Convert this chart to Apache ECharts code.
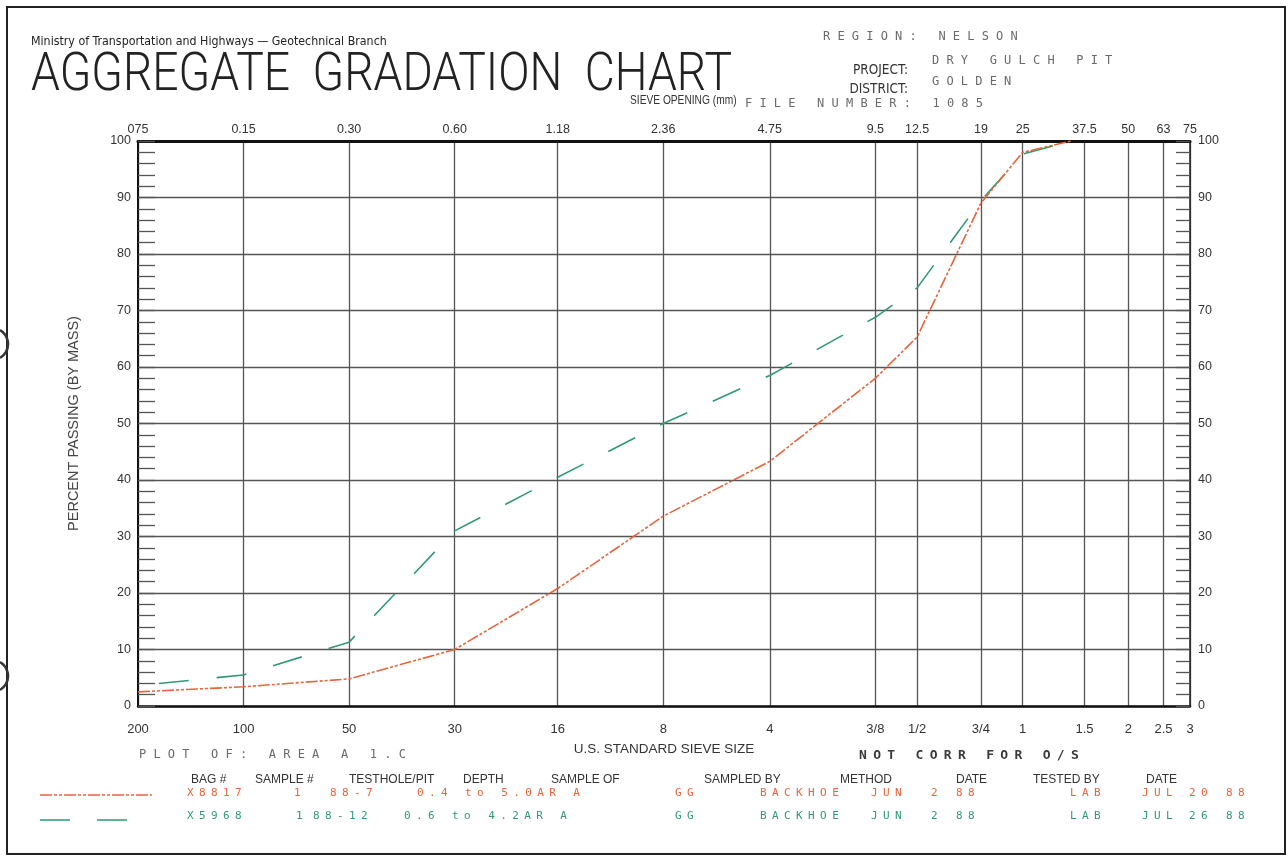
<!DOCTYPE html>
<html>
<head>
<meta charset="utf-8">
<script src="https://cdn.jsdelivr.net/npm/echarts@6/dist/echarts.min.js"></script>
<style>
html,body{margin:0;padding:0;background:#fff;}
#chart{width:1288px;height:857px;}
</style>
</head>
<body>
<div id="chart"></div>
<script>
// ---------- data ----------
const sieveMM = [0.075, 0.15, 0.30, 0.60, 1.18, 2.36, 4.75, 9.5, 12.5, 19, 25, 37.5, 50, 63, 75];
const sieveMMLabels = ['075', '0.15', '0.30', '0.60', '1.18', '2.36', '4.75', '9.5', '12.5', '19', '25', '37.5', '50', '63', '75'];
const sieveUSLabels = ['200', '100', '50', '30', '16', '8', '4', '3/8', '1/2', '3/4', '1', '1.5', '2', '2.5', '3'];
const sampleSizes = [0.075, 0.15, 0.30, 0.60, 1.18, 2.36, 4.75, 9.5, 12.5, 19, 25, 34.4];
const passingX8817 = [2.5, 3.4, 4.8, 10.0, 20.8, 33.6, 43.3, 58.0, 65.3, 89.0, 98.0, 100];
const passingX5968 = [3.6, 5.5, 11.3, 31.0, 40.5, 50.0, 58.5, 68.8, 74.0, 89.4, 97.7, 100];
const legendHeader = ['BAG #', 'SAMPLE #', 'TESTHOLE/PIT', 'DEPTH', 'SAMPLE OF', 'SAMPLED BY', 'METHOD', 'DATE', 'TESTED BY', 'DATE'];
const row1 = ['X8817', '1', '88-7', '0.4 to 5.0AR A', 'GG', 'BACKHOE', 'JUN', '2', '88', 'LAB', 'JUL', '20', '88'];
const row2 = ['X5968', '1', '88-12', '0.6 to 4.2AR A', 'GG', 'BACKHOE', 'JUN', '2', '88', 'LAB', 'JUL', '26', '88'];

// ---------- style constants ----------
const ORANGE = '#e8643c';
const GREEN = '#2f9a72';
const SANS = '"Liberation Sans", Arial, sans-serif';
const NARROW = '"DejaVu Sans Condensed", "Liberation Sans", sans-serif';
const MONO = '"DejaVu Sans Mono", monospace';

// dot-matrix printer look: wide letter spacing for the mono font only
const LETTER_SPACING = {'12': 7.2, '13': 6.3, '11': 5.4};
(function () {
  const proto = CanvasRenderingContext2D.prototype;
  const orig = proto.fillText;
  proto.fillText = function () {
    if ('letterSpacing' in this) {
      const f = this.font || '';
      let ls = 0;
      if (f.indexOf('DejaVu Sans Mono') >= 0) {
        const m = /(\d+(?:\.\d+)?)px/.exec(f);
        ls = m && LETTER_SPACING[m[1]] !== undefined ? LETTER_SPACING[m[1]] : 0;
      }
      this.letterSpacing = ls + 'px';
      this.font = f;
    }
    return orig.apply(this, arguments);
  };
})();

function labelFor(arr) {
  return function (value) {
    for (let i = 0; i < sieveMM.length; i++) {
      if (Math.abs(sieveMM[i] - value) / sieveMM[i] < 1e-6) return arr[i];
    }
    return '';
  };
}

function txt(x, y, text, font, fill, align, scaleX) {
  return {
    type: 'text', x: x, y: y, scaleX: scaleX || 1, silent: true, z: 10,
    style: {
      text: text, font: font, fill: fill || '#333',
      textAlign: align || 'left', align: align || 'left',
      textVerticalAlign: 'middle', verticalAlign: 'middle'
    }
  };
}

const graphics = [
  {type: 'rect', silent: true, shape: {x: 7, y: 7, width: 1278, height: 847},
   style: {fill: 'none', stroke: '#222', lineWidth: 2}},
  // binder holes at the left edge of the scanned sheet
  {type: 'arc', silent: true, shape: {cx: -8, cy: 344, r: 16, startAngle: -Math.PI / 3, endAngle: Math.PI / 3},
   style: {fill: 'none', stroke: '#333', lineWidth: 2.5}},
  {type: 'arc', silent: true, shape: {cx: -8, cy: 676, r: 16, startAngle: -Math.PI / 3, endAngle: Math.PI / 3},
   style: {fill: 'none', stroke: '#333', lineWidth: 2.5}},
  txt(31, 42, 'Ministry of Transportation and Highways \u2014 Geotechnical Branch', '12.3px ' + NARROW, '#222'),
  txt(31, 76, 'AGGREGATE  GRADATION  CHART', '300 54px Roboto, ' + SANS, '#222', 'left', 0.856),
  txt(630, 101, 'SIEVE OPENING (mm)', '12px ' + SANS, '#333', 'left', 0.85),
  txt(823, 37, 'REGION: NELSON', '12px ' + MONO, '#6a6a6a'),
  txt(908, 70, 'PROJECT:', '13.5px ' + NARROW, '#333', 'right'),
  txt(932, 61, 'DRY GULCH PIT', '12px ' + MONO, '#6a6a6a'),
  txt(908, 89, 'DISTRICT:', '13.5px ' + NARROW, '#333', 'right'),
  txt(932, 82, 'GOLDEN', '12px ' + MONO, '#6a6a6a'),
  txt(745, 104, 'FILE NUMBER: 1085', '12px ' + MONO, '#6a6a6a'),
  txt(139, 755, 'PLOT OF: AREA A 1.C', '12px ' + MONO, '#6a6a6a'),
  txt(859, 756, 'NOT CORR FOR O/S', 'bold 13px ' + MONO, '#3a3a3a'),
  // legend line samples
  {type: 'line', silent: true, shape: {x1: 40, y1: 795, x2: 152, y2: 795},
   style: {stroke: ORANGE, lineWidth: 1.6, lineDash: [12, 2, 3, 2, 3, 2]}},
  {type: 'line', silent: true, shape: {x1: 40, y1: 820, x2: 130, y2: 820},
   style: {stroke: GREEN, lineWidth: 1.6, lineDash: [30, 27]}}
];

const headerX = [191, 255, 349, 463, 551, 704, 840, 956, 1033, 1146];
legendHeader.forEach(function (t, i) {
  graphics.push(txt(headerX[i], 780, t, '12px ' + SANS, '#333'));
});
const row1X = [187, 294, 330, 417, 675, 760, 871, 931, 956, 1070, 1142, 1189, 1226];
const row2X = [187, 296, 313, 404, 675, 760, 871, 931, 956, 1070, 1142, 1189, 1226];
row1.forEach(function (t, i) { graphics.push(txt(row1X[i], 793, t, '11px ' + MONO, ORANGE)); });
row2.forEach(function (t, i) { graphics.push(txt(row2X[i], 816, t, '11px ' + MONO, GREEN)); });

const chart = echarts.init(document.getElementById('chart'), null, {renderer: 'canvas'});

const option = {
  animation: false,
  backgroundColor: '#fff',
  grid: {left: 138, right: 98, top: 141, bottom: 151, containLabel: false},
  xAxis: [
    {
      type: 'log', logBase: 10, min: 0.075, max: 75, position: 'bottom',
      name: 'U.S. STANDARD SIEVE SIZE', nameLocation: 'middle', nameGap: 36,
      nameTextStyle: {fontFamily: SANS, fontSize: 13.5, color: '#333'},
      axisLine: {show: true, onZero: false, lineStyle: {color: '#111', width: 2.5}},
      axisTick: {show: false, customValues: sieveMM},
      axisLabel: {customValues: sieveMM, formatter: labelFor(sieveUSLabels), margin: 17,
                  fontFamily: SANS, fontSize: 13, color: '#333'},
      splitLine: {show: true, lineStyle: {color: '#555', width: 1.3}},
      minorTick: {show: false}, minorSplitLine: {show: false}
    },
    {
      type: 'log', logBase: 10, min: 0.075, max: 75, position: 'top',
      axisLine: {show: true, onZero: false, lineStyle: {color: '#111', width: 3}},
      axisTick: {show: false, customValues: sieveMM},
      axisLabel: {customValues: sieveMM, formatter: labelFor(sieveMMLabels), margin: 5,
                  fontFamily: SANS, fontSize: 12.5, color: '#333'},
      splitLine: {show: false}
    }
  ],
  yAxis: [
    {
      type: 'value', min: 0, max: 100, interval: 10, position: 'left',
      name: 'PERCENT PASSING (BY MASS)', nameLocation: 'middle', nameGap: 57, nameRotate: 90,
      nameTextStyle: {fontFamily: SANS, fontSize: 14.5, color: '#444'},
      axisLine: {show: true, onZero: false, lineStyle: {color: '#111', width: 2}},
      axisTick: {show: true, inside: true, length: 17, lineStyle: {color: '#555', width: 1.3}},
      minorTick: {show: true, splitNumber: 5, length: 17, lineStyle: {color: '#555', width: 1.3}},
      axisLabel: {margin: 7, fontFamily: SANS, fontSize: 12.5, color: '#333'},
      splitLine: {show: true, lineStyle: {color: '#555', width: 1.3}}
    },
    {
      type: 'value', min: 0, max: 100, interval: 10, position: 'right',
      axisLine: {show: true, onZero: false, lineStyle: {color: '#222', width: 1.5}},
      axisTick: {show: true, inside: true, length: 14, lineStyle: {color: '#555', width: 1.3}},
      minorTick: {show: true, splitNumber: 5, length: 14, lineStyle: {color: '#555', width: 1.3}},
      axisLabel: {margin: 8, fontFamily: SANS, fontSize: 12.5, color: '#333'},
      splitLine: {show: false}
    }
  ],
  series: [
    {
      name: 'X8817', type: 'line', xAxisIndex: 0, yAxisIndex: 0,
      data: sampleSizes.map(function (s, i) { return [s, passingX8817[i]]; }),
      symbol: 'none', showSymbol: false, smooth: false, z: 5,
      lineStyle: {color: ORANGE, width: 1.6, type: [12, 2, 3, 2, 3, 2]}
    },
    {
      name: 'X5968', type: 'line', xAxisIndex: 0, yAxisIndex: 0,
      data: sampleSizes.map(function (s, i) { return [s, passingX5968[i]]; }),
      symbol: 'none', showSymbol: false, smooth: false, z: 4,
      lineStyle: {color: GREEN, width: 1.6, type: [30, 28], dashOffset: 37}
    }
  ],
  graphic: graphics
};
chart.setOption(option);
</script>
</body>
</html>
